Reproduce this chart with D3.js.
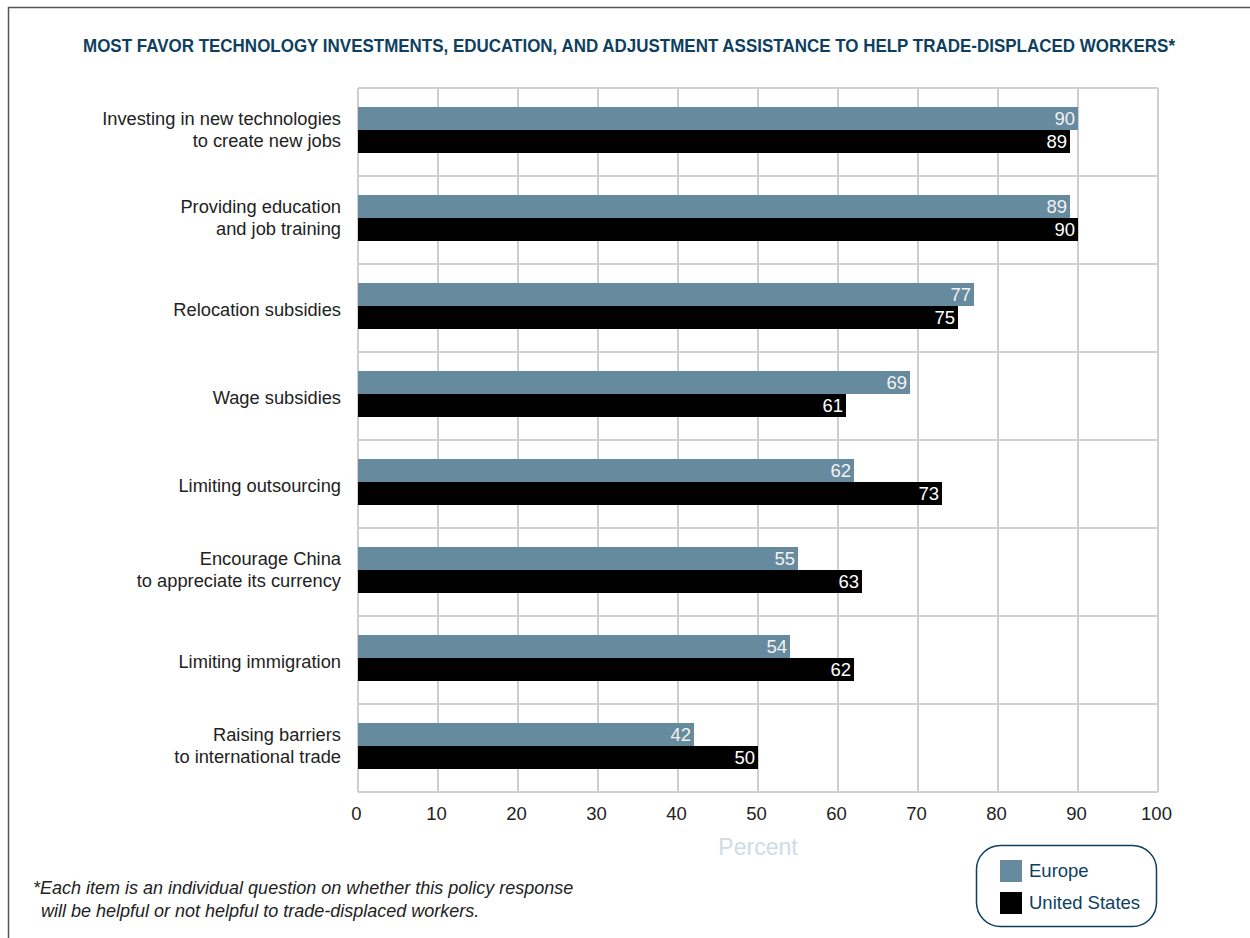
<!DOCTYPE html>
<html>
<head>
<meta charset="utf-8">
<script src="https://cdn.jsdelivr.net/npm/d3@7"></script>
<style>
  body { margin: 0; background: #fff; }
  svg { display: block; }
  text { font-family: "Liberation Sans", "DejaVu Sans", sans-serif; }
</style>
</head>
<body>
<div id="chart"></div>
<script>
// data
var categories = [
  ["Investing in new technologies", "to create new jobs"],
  ["Providing education", "and job training"],
  ["Relocation subsidies"],
  ["Wage subsidies"],
  ["Limiting outsourcing"],
  ["Encourage China", "to appreciate its currency"],
  ["Limiting immigration"],
  ["Raising barriers", "to international trade"]
];
var europe = [90, 89, 77, 69, 62, 55, 54, 42];
var unitedStates = [89, 90, 75, 61, 73, 63, 62, 50];
var seriesNames = ["Europe", "United States"];
var xTicks = [0, 10, 20, 30, 40, 50, 60, 70, 80, 90, 100];

var width = 1250, height = 938;
var margin = {left: 358, right: 92, top: 88, bottom: 146};
var colors = ["#668a9e", "#000000"];
var navy = "#0e3f60";

var svg = d3.select("#chart").append("svg")
    .attr("width", width).attr("height", height);

// outer frame (top and left edge only visible)
svg.append("path")
    .attr("d", "M8.5," + height + "V7.5H" + width)
    .attr("fill", "none").attr("stroke", "#555").attr("stroke-width", 1.5);

// title
svg.append("text")
    .attr("x", 629).attr("y", 52)
    .attr("text-anchor", "middle")
    .attr("fill", navy)
    .attr("font-weight", "bold")
    .attr("font-size", 17.5)
    .attr("textLength", 1092)
    .attr("lengthAdjust", "spacingAndGlyphs")
    .text("MOST FAVOR TECHNOLOGY INVESTMENTS, EDUCATION, AND ADJUSTMENT ASSISTANCE TO HELP TRADE-DISPLACED WORKERS*");

var xScale = d3.scaleLinear()
    .domain([0, 100])
    .range([margin.left, width - margin.right]);

var yScale = d3.scaleBand()
    .domain(d3.range(categories.length))
    .range([margin.top, height - margin.bottom]);

var inner = d3.scaleBand()
    .domain([0, 1])
    .range([19, yScale.bandwidth() - 23]);

// gridlines
var grid = svg.append("g");
grid.selectAll(".vgrid")
    .data(xTicks).enter().append("line")
    .attr("x1", function(d) { return xScale(d); })
    .attr("x2", function(d) { return xScale(d); })
    .attr("y1", margin.top).attr("y2", height - margin.bottom)
    .attr("stroke", "#cfcfcf").attr("stroke-width", 2);
grid.selectAll(".hgrid")
    .data(d3.range(categories.length + 1)).enter().append("line")
    .attr("x1", margin.left).attr("x2", width - margin.right)
    .attr("y1", function(d) { return margin.top + d * yScale.bandwidth(); })
    .attr("y2", function(d) { return margin.top + d * yScale.bandwidth(); })
    .attr("stroke", "#cfcfcf").attr("stroke-width", 2);

// bars
var series = [europe, unitedStates];
series.forEach(function(values, s) {
  var g = svg.append("g");
  g.selectAll("rect")
      .data(values).enter().append("rect")
      .attr("x", xScale(0))
      .attr("y", function(d, i) { return yScale(i) + inner(s); })
      .attr("width", function(d) { return xScale(d) - xScale(0); })
      .attr("height", inner.bandwidth())
      .attr("fill", colors[s]);
  g.selectAll("text")
      .data(values).enter().append("text")
      .attr("x", function(d) { return xScale(d) - 3; })
      .attr("y", function(d, i) { return yScale(i) + inner(s) + inner.bandwidth() / 2 + 6.5; })
      .attr("text-anchor", "end")
      .attr("font-size", 18.5)
      .attr("fill", s == 0 ? "#f2f2f2" : "#ffffff")
      .text(function(d) { return d; });
});

// category labels
var labels = svg.append("g");
categories.forEach(function(lines, i) {
  var mid = yScale(i) + inner(0) + inner.bandwidth();
  var t = labels.append("text")
      .attr("text-anchor", "end")
      .attr("font-size", 18.3)
      .attr("fill", "#222");
  lines.forEach(function(l, j) {
    var y = lines.length == 1 ? mid + 10 : mid - 5 + j * 22;
    t.append("tspan").attr("x", 341).attr("y", y).text(l);
  });
});

// x axis
var xAxis = d3.axisBottom(xScale).tickValues(xTicks).tickSize(0).tickPadding(0);
var ax = svg.append("g")
    .attr("transform", "translate(-2," + (height - margin.bottom) + ")")
    .call(xAxis);
ax.select(".domain").remove();
ax.selectAll("text")
    .attr("dy", 0).attr("y", 28)
    .attr("font-size", 18.5)
    .attr("font-family", "Liberation Sans, sans-serif")
    .attr("fill", "#222");

svg.append("text")
    .attr("x", 758).attr("y", 855)
    .attr("text-anchor", "middle")
    .attr("font-size", 23)
    .attr("fill", "#cfdbe5")
    .text("Percent");

// legend
var legend = svg.append("g");
legend.append("rect")
    .attr("x", 976.5).attr("y", 845.5)
    .attr("width", 180).attr("height", 81)
    .attr("rx", 24).attr("ry", 24)
    .attr("fill", "#fff").attr("stroke", navy).attr("stroke-width", 1.5);
seriesNames.forEach(function(name, i) {
  legend.append("rect")
      .attr("x", 1000).attr("y", 860 + i * 32)
      .attr("width", 22).attr("height", 22)
      .attr("fill", colors[i]);
  legend.append("text")
      .attr("x", 1029).attr("y", 877 + i * 32)
      .attr("font-size", 18.5)
      .attr("fill", navy)
      .text(name);
});

// footnote
var note = svg.append("text")
    .attr("font-size", 18)
    .attr("font-style", "italic")
    .attr("fill", "#222");
note.append("tspan").attr("x", 33).attr("y", 894)
    .text("*Each item is an individual question on whether this policy response");
note.append("tspan").attr("x", 41).attr("y", 917)
    .text("will be helpful or not helpful to trade-displaced workers.");
</script>
</body>
</html>
